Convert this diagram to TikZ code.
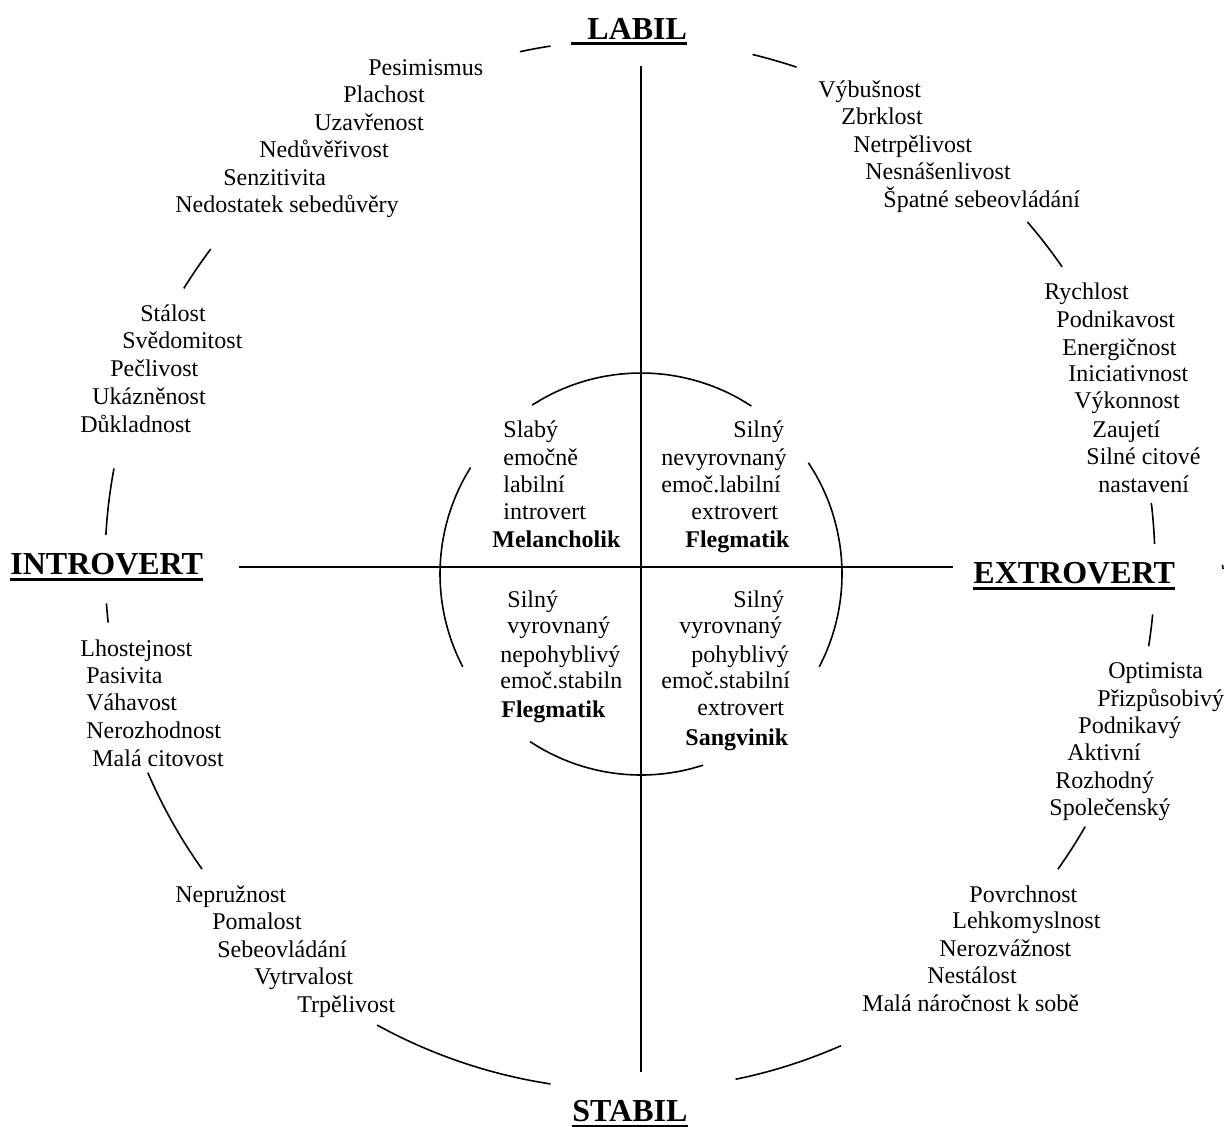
\documentclass[tikz,border=0pt]{standalone}
\usepackage{fontspec}
\setmainfont{Liberation Serif}

\tikzset{
  trait/.style={anchor=base west, inner sep=0pt, font=\fontsize{12}{14}\selectfont},
  kind/.style={trait, font=\fontsize{12}{14}\selectfont\bfseries},
  head/.style={anchor=base west, inner sep=0pt, font=\fontsize{16}{19}\selectfont\bfseries},
  uline/.style={line width=1.5pt},
  rim/.style={line width=0.8pt},
  axis/.style={line width=0.8pt}
}

\begin{document}
\begin{tikzpicture}[x=0.5pt,y=-0.5pt]
  \useasboundingbox (0,0) rectangle (1225,1126);

  % Define the four poles
  \node[head] (L) at (587,39)  {LABIL};
  \node[head] (S) at (572,1121) {STABIL};
  \node[head] (I) at (10,574)  {INTROVERT};
  \node[head] (E) at (973,583) {EXTROVERT};
  \draw[uline] ([xshift=-8pt,yshift=-2pt]L.base west) -- ([yshift=-2pt]L.base east);
  \foreach \n in {S,I,E}
    \draw[uline] ([yshift=-2.5pt]\n.base west) -- ([yshift=-2.5pt]\n.base east);

  % Axes
  \coordinate (axN) at (641,66);
  \coordinate (axS) at (641,1072);
  \coordinate (axW) at (239,567);
  \coordinate (axE) at (953,567);
  \draw[axis] (axN) -- (axS);
  \draw[axis] (axW) -- (axE);

  % Outer ring, broken where the traits are
  \foreach \a/\b in {-102.1/-98.7, -76.5/-71.5, -40.8/-34.6, -6.8/-2.3, 5.4/8.9,
                     29.9/35.4, 66.3/78.4, 98.7/118.8, 144.6/156.7, 173.7/175.8,
                     183.3/190.6, 211.8/217}
    \draw[rim] plot[domain=\a:\b, samples=12, smooth] ({630+525*cos(\x)},{565+525*sin(\x)});
  \draw[rim] (1222.5,565) -- (1223,569);

  % Inner ring
  \foreach \a/\b in {-122.8/-56.7, -33.6/27.5, 72/123.5, 152.5/212}
    \draw[rim] plot[domain=\a:\b, samples=16, smooth] ({641+201*cos(\x)},{574+201*sin(\x)});

  % Traits round the ring
  \foreach \x/\y/\t [count=\i] in {368/75/Pesimismus, 343/102/Plachost, 314/130/Uzavřenost,
      259/157/Nedůvěřivost, 223/185/Senzitivita, 175/212/Nedostatek sebedůvěry}
    \node[trait] (pes\i) at (\x,\y) {\t};
  \foreach \x/\y/\t [count=\i] in {818/97/Výbušnost, 841/124/Zbrklost, 853/152/Netrpělivost,
      865/179/Nesnášenlivost, 883/207/Špatné sebeovládání}
    \node[trait] (vyb\i) at (\x,\y) {\t};
  \foreach \x/\y/\t [count=\i] in {1044/299/Rychlost, 1056/327/Podnikavost, 1062/355/Energičnost,
      1068/381/Iniciativnost, 1074/408/Výkonnost, 1092/437/Zaujetí, 1086/464/Silné citové,
      1098/492/nastavení}
    \node[trait] (ry\i) at (\x,\y) {\t};
  \foreach \x/\y/\t [count=\i] in {140/321/Stálost, 122/348/Svědomitost, 110/376/Pečlivost,
      92/404/Ukázněnost, 80/432/Důkladnost}
    \node[trait] (st\i) at (\x,\y) {\t};
  \foreach \x/\y/\t [count=\i] in {80/656/Lhostejnost, 86/683/Pasivita, 86/710/Váhavost,
      86/738/Nerozhodnost, 92/766/Malá citovost}
    \node[trait] (lh\i) at (\x,\y) {\t};
  \foreach \x/\y/\t [count=\i] in {1108/678/Optimista, 1097/706/Přizpůsobivý, 1078/733/Podnikavý,
      1067/760/Aktivní, 1055/788/Rozhodný, 1049/815/Společenský}
    \node[trait] (opt\i) at (\x,\y) {\t};
  \foreach \x/\y/\t [count=\i] in {175/902/Nepružnost, 212/929/Pomalost, 217/957/Sebeovládání,
      254/984/Vytrvalost, 297/1012/Trpělivost}
    \node[trait] (nep\i) at (\x,\y) {\t};
  \foreach \x/\y/\t [count=\i] in {969/902/Povrchnost, 952/928/Lehkomyslnost, 939/956/Nerozvážnost,
      927/983/Nestálost, 862/1011/Malá náročnost k sobě}
    \node[trait] (pov\i) at (\x,\y) {\t};

  % Temperaments inside
  \foreach \x/\y/\t [count=\i] in {503/437/Slabý, 503/465/emočně, 503/492/labilní, 503/519/introvert}
    \node[trait] (qa\i) at (\x,\y) {\t};
  \node[kind] (mel) at (492,547) {Melancholik};
  \foreach \x/\y/\t [count=\i] in {733/437/Silný, 661/465/nevyrovnaný, 661/492/emoč.labilní, 691/519/extrovert}
    \node[trait] (qb\i) at (\x,\y) {\t};
  \node[kind] (fla) at (685,547) {Flegmatik};
  \foreach \x/\y/\t [count=\i] in {507/607/Silný, 507/633/vyrovnaný, 500/662/nepohyblivý, 500/688/emoč.stabiln}
    \node[trait] (qc\i) at (\x,\y) {\t};
  \node[kind] (flb) at (501,717) {Flegmatik};
  \foreach \x/\y/\t [count=\i] in {733/607/Silný, 679/633/vyrovnaný, 691/662/pohyblivý,
      661/688/emoč.stabilní, 697/715/extrovert}
    \node[trait] (qd\i) at (\x,\y) {\t};
  \node[kind] (san) at (685,745) {Sangvinik};
\end{tikzpicture}
\end{document}
